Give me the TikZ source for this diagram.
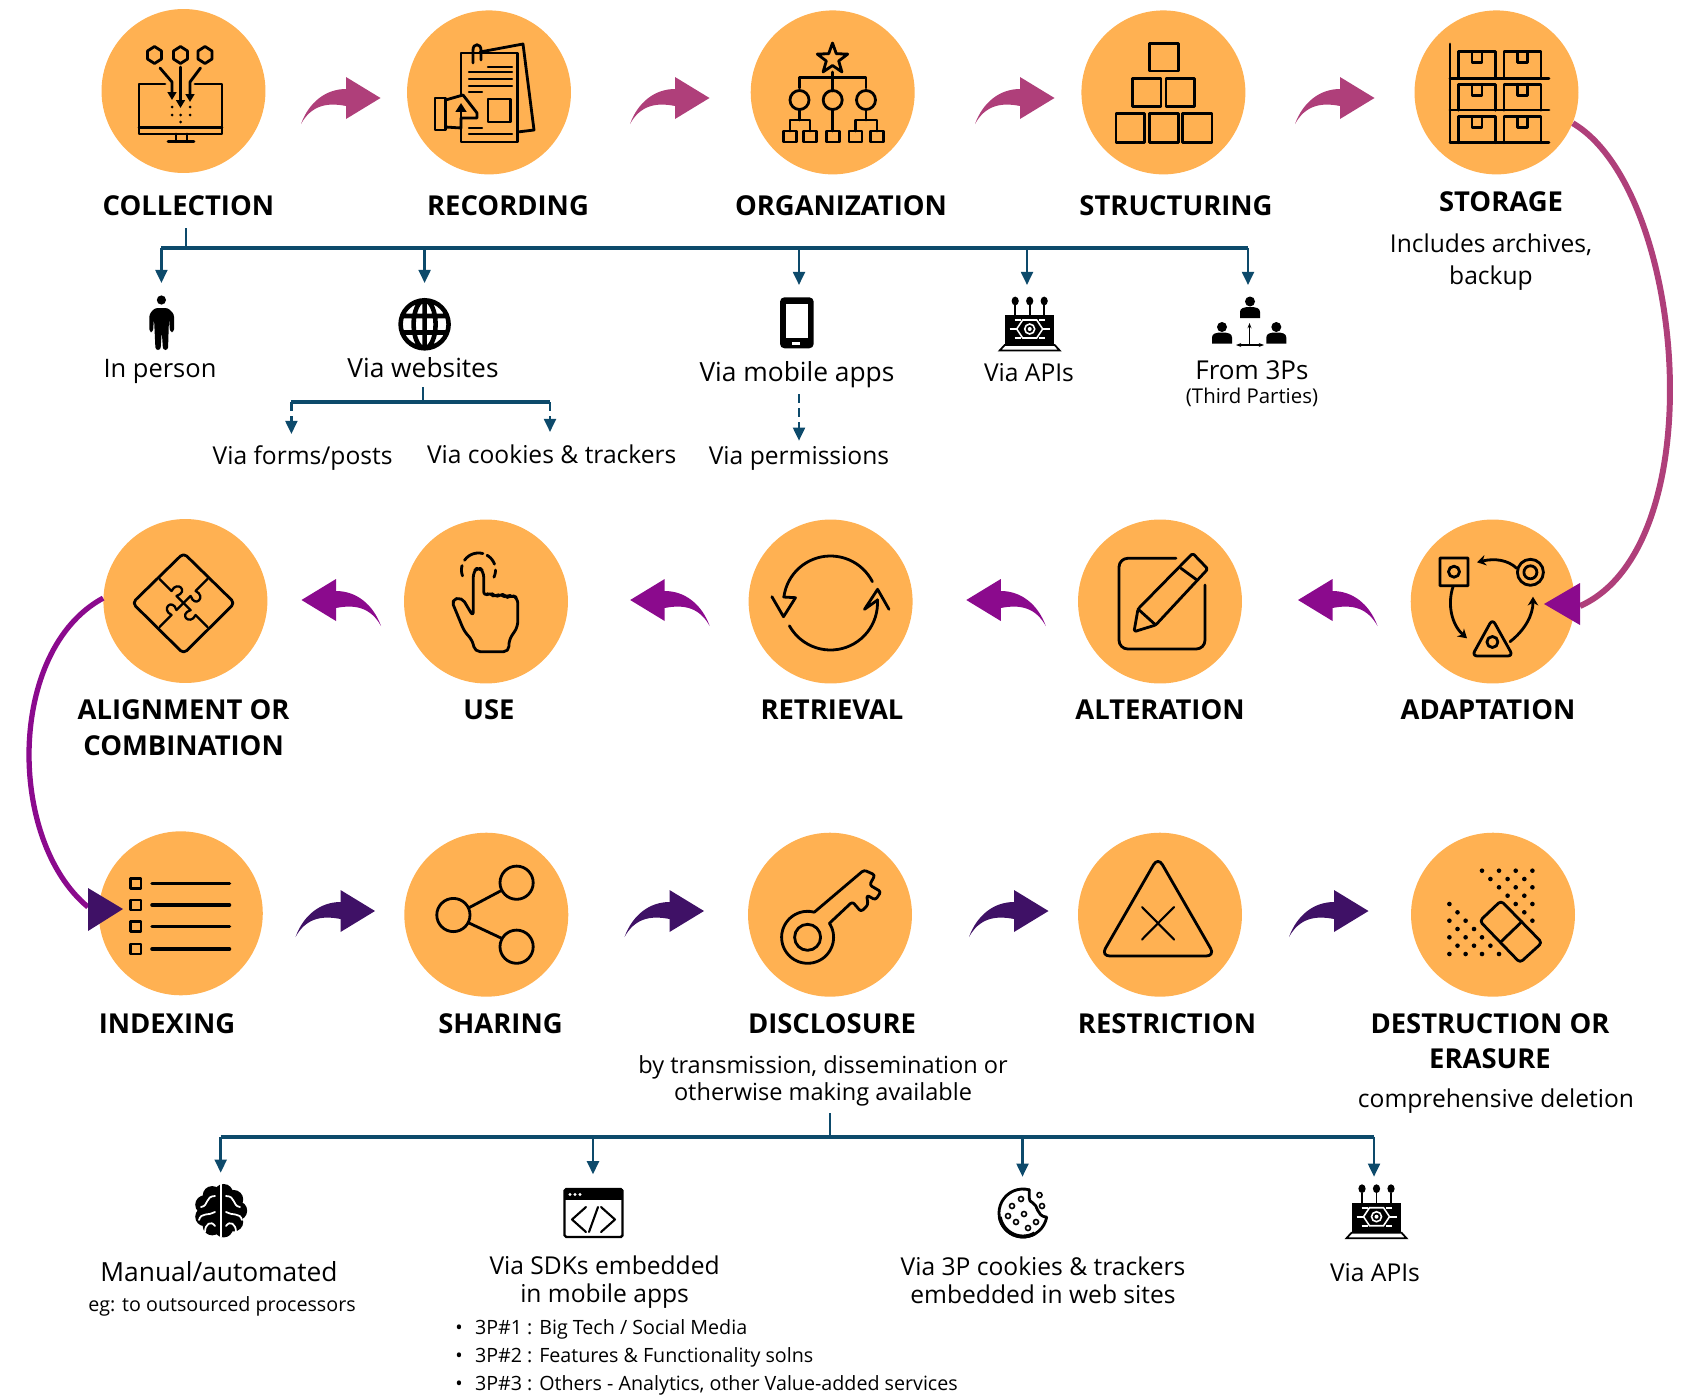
\documentclass[tikz,border=0pt]{standalone}
\usepackage{fontspec}
\setmainfont{Open Sans}
\usetikzlibrary{arrows.meta}
\definecolor{stepfill}{HTML}{FFB152}
\definecolor{plumarrow}{HTML}{AF3F7A}
\definecolor{purplearrow}{HTML}{8B0A8D}
\definecolor{indigoarrow}{HTML}{3F1166}
\definecolor{branchblue}{HTML}{0D4A6B}
\newcommand{\iconarc}[5]{\draw[iconline] plot[smooth,variable=\t,domain=#4:#5,samples=30] ({#1+#3*cos(\t)},{#2-#3*sin(\t)});}
\tikzset{
  stepcircle/.style={circle,fill=stepfill,minimum size=3.28cm,inner sep=0pt},
  steptitle/.style={font=\bfseries\fontsize{15.6}{20}\selectfont,align=center,inner sep=0pt},
  sublabel/.style={font=\fontsize{14}{16}\selectfont,align=center,inner sep=0pt},
  largelabel/.style={font=\fontsize{15}{17}\selectfont,align=center,inner sep=0pt},
  notelabel/.style={font=\fontsize{13.4}{15.4}\selectfont,align=center,inner sep=0pt},
  smalllabel/.style={font=\fontsize{11.6}{14}\selectfont,inner sep=0pt},
  bulletlabel/.style={font=\fontsize{11.2}{14}\selectfont,inner sep=0pt,anchor=west},
  iconline/.style={draw=black,line width=1.6pt,line join=round,line cap=round},
  branchbar/.style={draw=branchblue,line width=2.2pt},
  branchstem/.style={draw=branchblue,line width=1.4pt},
  brancharrow/.style={draw=branchblue,line width=1.4pt,-{Triangle[length=7.5pt,width=6.8pt]}},
  branchdash/.style={brancharrow,dash pattern=on 5pt off 3pt},
  curlarrow/.pic={
    \fill[pic actions] (0,0) .. controls (8,-22) and (25,-35) .. (45,-35) -- (45,-47) -- (79.5,-26) -- (45,-5) -- (45,-18) .. controls (25,-22) and (10,-18) .. (0,0) -- cycle;
  },
  apiicon/.pic={
    \foreach \i in {-14.5,0,14.5} {\draw[line width=1pt] (\i,-14) -- (\i,-24); \fill (\i,-28) ellipse (3.6 and 4.4);}
    \fill (-24.5,-14) rectangle (24.5,15);
    \draw[line width=1pt,fill=white] (-25,16) -- (25,16) -- (30,21.5) -- (-30,21.5) -- cycle;
    \draw[white,line width=.9pt] (0,0) circle (5);
    \fill[white] (0,0) circle (2);
    \draw[white,line width=.9pt] (-13,0) -- (-7,-9) -- (7,-9) -- (13,0) -- (7,9) -- (-7,9) -- cycle;
    \draw[white,line width=.9pt] (-20,0) -- (-13,0) (13,0) -- (20,0) (-15,-9) -- (-9,-9) (15,-9) -- (9,-9) (-15,9) -- (-9,9) (15,9) -- (9,9);
  },
  bustnode/.pic={
    \fill (0,-5.5) circle (5);
    \fill (-10,11) -- (-10,5) .. controls (-10,1) and (-6,0) .. (0,0) .. controls (6,0) and (10,1) .. (10,5) -- (10,11) -- cycle;
  }
}
\begin{document}
\begin{tikzpicture}[x=0.02cm,y=-0.02cm]
\useasboundingbox (0,0) rectangle (1694,1396);
\foreach \nm/\x/\y in {collection/183.5/91,recording/489/92.4,organization/832.7/92.4,structuring/1163.4/92.4,storage/1496.5/92.4,
  alignment/185.4/601,use/486/601.5,retrieval/830.6/601.5,alteration/1160/601.5,adaptation/1492.7/601.5,
  indexing/180.8/913.3,sharing/486.3/914.7,disclosure/830/914.7,restriction/1160/914.7,destruction/1493/914.7}
  \node[stepcircle] (\nm) at (\x,\y) {};

\foreach \x/\y in {301/124,630/124,975/124,1295/124} \pic[fill=plumarrow] at (\x,\y) {curlarrow};
\foreach \x/\y in {381/626,709.7/626,1045.8/626,1377.5/626} \pic[fill=purplearrow,xscale=-1] at (\x,\y) {curlarrow};
\foreach \x/\y in {295.5/937,624.5/937,969/937,1289/937} \pic[fill=indigoarrow] at (\x,\y) {curlarrow};

\coordinate (adaptationin) at (1580,606);
\coordinate (indexingin) at (88,907);
\draw[plumarrow,line width=3.4pt] (storage.-22) .. controls (1686,190) and (1715,546) .. (adaptationin);
\draw[purplearrow,line width=3pt] (alignment.178) .. controls (7,650) and (7,840) .. (indexingin);
\fill[purplearrow] (1580,583) -- (1580,625) -- (1544,604) -- cycle;
\fill[indigoarrow] (88,888) -- (88,931) -- (123,909) -- cycle;

\node[steptitle] (collectiontitle) at (188.4,206) {COLLECTION};
\node[steptitle] (recordingtitle) at (508,206) {RECORDING};
\node[steptitle] (organizationtitle) at (841,206) {ORGANIZATION};
\node[steptitle] (structuringtitle) at (1176,206) {STRUCTURING};
\node[steptitle] (storagetitle) at (1501,202) {STORAGE};
\node[steptitle] (alignmenttitle) at (183.6,727.7) {ALIGNMENT OR\\COMBINATION};
\node[steptitle] (usetitle) at (489,710) {USE};
\node[steptitle] (retrievaltitle) at (832,710) {RETRIEVAL};
\node[steptitle] (alterationtitle) at (1160,710) {ALTERATION};
\node[steptitle] (adaptationtitle) at (1488,710) {ADAPTATION};
\node[steptitle] (indexingtitle) at (167,1024) {INDEXING};
\node[steptitle] (sharingtitle) at (500.5,1024) {SHARING};
\node[steptitle] (disclosuretitle) at (832,1024) {DISCLOSURE};
\node[steptitle] (restrictiontitle) at (1167,1024) {RESTRICTION};
\node[steptitle] (destructiontitle) at (1490,1041.5) {DESTRUCTION OR\\ERASURE};

\node[sublabel] (storagenote) at (1491,262) {Includes archives,\\[2.2pt]backup};
\node[sublabel,font=\fontsize{14.5}{16}\selectfont] (inperson) at (160,371) {In person};
\node[largelabel] (viawebsites) at (423,368) {Via websites};
\node[largelabel] (viamobile) at (797,375) {Via mobile apps};
\node[sublabel] (viaapis) at (1029,373) {Via APIs};
\node[sublabel,font=\fontsize{14.8}{16}\selectfont] (fromtp) at (1252,370) {From 3Ps};
\node[smalllabel] (thirdparties) at (1252,397) {(Third Parties)};
\node[sublabel] (viaforms) at (302.6,458) {Via forms/posts};
\node[sublabel] (viacookies) at (551.7,454) {Via cookies \& trackers};
\node[sublabel] (viapermissions) at (799,458) {Via permissions};
\node[notelabel] (disclosurenote) at (823,1080.7) {by transmission, dissemination or\\otherwise making available};
\node[sublabel] (destructionnote) at (1496,1101) {comprehensive deletion};
\node[largelabel] (manual) at (219,1272) {Manual/automated};
\node[smalllabel,font=\fontsize{11.2}{14}\selectfont] (manualnote) at (222,1306.7) {eg: to outsourced processors};
\node[sublabel] (viasdks) at (604.6,1282) {Via SDKs embedded\\in mobile apps};
\node[sublabel] (viatpcookies) at (1043,1280) {Via 3P cookies \& trackers\\embedded in web sites};
\node[sublabel] (viaapisb) at (1375,1273) {Via APIs};
\node[bulletlabel] (sdkone) at (455,1329) {\textbullet\hspace{7pt}3P\#1 : Big Tech / Social Media};
\node[bulletlabel] (sdktwo) at (455,1357) {\textbullet\hspace{7pt}3P\#2 : Features \& Functionality solns};
\node[bulletlabel] (sdkthree) at (455,1385.5) {\textbullet\hspace{7pt}3P\#3 : Others - Analytics, other Value-added services};

\foreach \nm/\x/\yend in {person/161.4/283,web/424.6/283,mobile/799/285,apis/1027/285,third/1248/285} {
  \coordinate (\nm-top) at (\x,248);
  \coordinate (\nm-end) at (\x,\yend);
  \draw[brancharrow] (\nm-top) -- (\nm-end);
}
\coordinate (collectionstem) at (186,228);
\draw[branchstem] (collectionstem) -- (collectionstem |- person-top);
\draw[branchbar] (person-top) -- (third-top);

\coordinate (webstem) at (423,387);
\coordinate (formsbar) at (291.4,402);
\coordinate (cookiesbar) at (550,402);
\coordinate (formsend) at (291.4,434);
\coordinate (cookiesend) at (550,432);
\coordinate (mobilestem) at (799,394);
\coordinate (permissionsend) at (799,440.7);
\draw[branchstem] (webstem) -- (webstem |- formsbar);
\draw[branchbar] (formsbar) -- (cookiesbar);
\draw[branchdash] (formsbar) -- (formsend);
\draw[branchdash] (cookiesbar) -- (cookiesend);
\draw[branchdash] (mobilestem) -- (permissionsend);

\foreach \nm/\x/\yend in {brain/220.7/1172.7,sdk/593/1174.3,cookie/1022.5/1176.7,api/1374/1176.7} {
  \coordinate (\nm-top) at (\x,1136.7);
  \coordinate (\nm-end) at (\x,\yend);
  \draw[brancharrow] (\nm-top) -- (\nm-end);
}
\coordinate (disclosurestem) at (830,1113);
\draw[branchstem] (disclosurestem) -- (disclosurestem |- brain-top);
\draw[branchbar] (brain-top) -- (api-top);

\foreach \x in {154.5,180.5,205} \draw[iconline] (\x,46.5) -- ++(7,4.5) -- ++(0,8) -- ++(-7,4.5) -- ++(-7,-4.5) -- ++(0,-8) -- cycle;
\draw[iconline] (165,84) -- (139,84) -- (139,134) -- (222,134) -- (222,84) -- (195,84);
\draw[iconline] (139,127.7) -- (222,127.7) (176,134) -- (176,141.7) (187,134) -- (187,141.7) (168,141.7) -- (194,141.7);
\draw[iconline,-{Triangle[length=4.5pt,width=5pt]}] (160,68) -- (172,82) -- (172,100);
\draw[iconline,-{Triangle[length=4.5pt,width=5pt]}] (180.5,67) -- (180.5,108);
\draw[iconline,-{Triangle[length=4.5pt,width=5pt]}] (200.5,68) -- (190,82) -- (190,102);
\foreach \x/\y in {172/107,172/115,180.5/115,180.5/122,190/107,190/115} \fill (\x,\y) circle (1.5);

\draw[iconline] (480,52) -- (523,44) -- (534,130) -- (517.6,132);
\draw[iconline] (461,53) rectangle (517.6,142);
\draw[iconline] (473,63) -- (473,50) .. controls (473,43) and (481,43) .. (481,50) -- (481,60);
\draw[iconline] (488,99) rectangle (510.6,122);
\foreach \xa/\xb/\y in {488/512/67,469/512/72,469/512/79,469/512/86,469/482/92,469/482/128,469/512/134} \draw[iconline,line width=1.4pt] (\xa,\y) -- (\xb,\y);
\draw[iconline,fill=stepfill] (445.5,100) -- (463,95) -- (477,113) -- (477,118) -- (461,118) -- (461,128) -- (445.5,127) -- cycle;
\draw[iconline,fill=stepfill] (435,98) rectangle (445.5,130);
\draw[iconline,-{Triangle[length=5pt,width=6pt]}] (461,128) -- (461,103);

\draw[iconline,shift={(832.5,59)}] (0,-16) -- (3.8,-5.3) -- (15.2,-4.9) -- (6.2,2) -- (9.4,12.9) -- (0,6.5) -- (-9.4,12.9) -- (-6.2,2) -- (-15.2,-4.9) -- (-3.8,-5.3) -- cycle;
\draw[iconline] (832.7,72) -- (832.7,91) (799.5,88) -- (799.5,77.3) -- (866,77.3) -- (866,88);
\foreach \x in {799.5,832.7,866} \draw[iconline] (\x,100) circle (9.5);
\foreach \x in {790,810,833,855.5,877} \draw[iconline] (\x-6.5,131) rectangle (\x+6.5,142);
\draw[iconline] (832.7,110) -- (832.7,131) (799.5,110) -- (799.5,120) (790,131) -- (790,120) -- (810,120) -- (810,131) (866,110) -- (866,120) (855.5,131) -- (855.5,120) -- (877,120) -- (877,131);

\foreach \xa/\ya/\xb/\yb in {1149.4/43.3/1178.5/71,1132.7/78.3/1161/106.7,1166/78.3/1194.6/106.7,1116/113.3/1144.6/142.3,1149.4/113.3/1178.5/142.3,1182.8/113.3/1212/142.3}
  \draw[iconline] (\xa,\ya) rectangle (\xb,\yb);

\draw[iconline] (1450,44) -- (1450,142.7) (1450,78.3) -- (1549,78.3) (1450,110) -- (1549,110) (1450,142.7) -- (1549,142.7);
\foreach \bx in {1458.5,1504} \foreach \by in {51.7,84.3,116.7} {
  \draw[iconline] (\bx,\by+26) -- (\bx,\by) -- (\bx+37,\by) -- (\bx+37,\by+26);
  \draw[iconline] (\bx+13.5,\by) -- ++(0,11) -- ++(10,0) -- ++(0,-11);
}

\draw[iconline,rounded corners=2.5pt] (183.6,553) -- (234.7,603) -- (183.6,653.7) -- (132.4,603) -- cycle;
\foreach \a in {45,135,225,315} \draw[iconline,line width=1.3pt,shift={(183.6,603)},rotate=\a] (0,0) -- (10,0) .. controls (4,12) and (21,12) .. (17,0) -- (34,0);

\draw[iconline,rounded corners=3pt] (464.4,631.7) -- (451.3,600) -- (461.8,597.3) -- (473.3,616.7) -- (473.3,571.7) -- (478.5,566.7) -- (483.7,571.7) -- (483.7,596.7) -- (490.6,591.7) -- (494.7,598) -- (501,593) -- (506,598) -- (511.5,595) -- (517.8,598) -- (517.8,626.7) -- (508.9,640) -- (508.9,651.7) -- (474.9,651.7) -- (472.3,640) -- cycle;
\iconarc{478.5}{570}{17}{20}{60}
\iconarc{478.5}{570}{17}{75}{145}
\iconarc{478.5}{570}{17}{165}{200}
\iconarc{478.5}{570}{17}{-25}{0}

\iconarc{830.5}{603}{47}{172}{27}
\iconarc{830.5}{603}{47}{209}{364}
\draw[iconline] (771.9,596.7) -- (783.5,616.7) -- (795.5,597.7) -- (783.5,597);
\draw[iconline] (889,609.3) -- (877.6,589.3) -- (864.5,609.3) -- (877.6,600);

\draw[iconline,rounded corners=5pt] (1176,558.3) -- (1119,558.3) -- (1119,649) -- (1205,649) -- (1205,585);
\draw[iconline,rounded corners=1pt] (1134,631.7) -- (1138,609) -- (1192.7,553.3) -- (1207.8,569) -- (1155.7,625) -- cycle;
\draw[iconline] (1138,609) -- (1155.7,625) (1181,568.3) -- (1196,579.3);

\draw[iconline] (1440,558) rectangle (1468,585.7) (1454,571.7) circle (5.5);
\draw[iconline] (1530.4,572.3) circle (13) (1530.4,572.3) circle (6.5);
\draw[iconline,rounded corners=3pt] (1492.4,619) -- (1513,656) -- (1472,656) -- cycle;
\draw[iconline] (1492.4,642) circle (5.5);
\draw[iconline,-{Stealth[length=5pt,width=6pt]}] (1516.7,568.3) .. controls (1508,560) and (1495,558) .. (1477,562.3);
\draw[iconline,-{Stealth[length=5pt,width=6pt]}] (1510,641.7) .. controls (1525,630) and (1533,615) .. (1533,596.7);
\draw[iconline,-{Stealth[length=5pt,width=6pt]}] (1453,586.7) .. controls (1447,605) and (1452,625) .. (1467,638.3);

\foreach \y in {883.3,905,926.7,949} {
  \draw[iconline] (130.5,\y-5) rectangle (141,\y+5);
  \draw[iconline,line width=2pt] (152,\y) -- (229.5,\y);
}

\foreach \nm/\x/\y in {sharetop/516.6/882.7,shareleft/453.4/915,sharebottom/516.6/946.7} \draw[iconline] (\x,\y) circle (16.6);
\draw[iconline] (469,907.7) -- (501,890.7) (469,923) -- (501,938);

\iconarc{807.6}{937.3}{26}{75}{392}
\draw[iconline] (807.6,937.3) circle (13);
\draw[iconline,rounded corners=1.5pt] (814.5,912) -- (864,870) -- (875,875) -- (869.6,885) -- (881,891.7) -- (875.4,900) -- (866.7,895) -- (868,905) -- (861,911.7) -- (852.4,901.7) -- (829.4,923.3);

\draw[iconline,rounded corners=5pt] (1158,857) -- (1215,956) -- (1101,956) -- cycle;
\draw[iconline,line width=1.2pt] (1142,907) -- (1174,939.5) (1174,907) -- (1142,939.5);

\draw[iconline,rounded corners=2pt] (1501,900.7) -- (1542,942.7) -- (1520,962.7) -- (1479.7,921) -- cycle;
\draw[iconline] (1521.8,921.7) -- (1501,941.7);
\foreach \x/\y in {1482/870.7,1499/870.7,1515.7/870.7,1532.4/870.7,1490.4/879,1507.6/879,1524.3/879,1499/887.3,1515.7/887.3,1532.4/887.3,1507.6/895.7,1524.3/895.7,1515.7/904,1532.4/904,1524.3/912.3,1532.4/920.7,
  1449.4/904,1457.5/912.3,1449.4/920.7,1465.6/920.7,1457.5/929,1474/929,1449.4/937.3,1465.6/937.3,1482/937.3,1457.5/945.7,1474/945.7,1490.4/945.7,1449.4/954,1465.6/954,1482/954,1499/954}
  \fill (\x,\y) circle (2.3);

\fill (161.4,300) circle (4.6);
\fill[rounded corners=1.5pt] (155,308) -- (168,308) -- (174,314) -- (174,332) -- (170,332) -- (169,318) -- (168,350) -- (163,350) -- (161.8,332) -- (160.5,350) -- (155.5,350) -- (154,318) -- (153,332) -- (149.4,332) -- (149.4,314) -- cycle;

\draw[line width=2.6pt] (424.6,324.3) circle (24) (424.6,324.3) ellipse (11 and 24) (424.6,300) -- (424.6,348.6) (403,316) -- (446,316) (403,332.5) -- (446,332.5);

\fill[rounded corners=2.5pt] (780,297.3) rectangle (813.7,348.3);
\fill[white] (785.8,304) rectangle (808,338.3);
\fill[white] (791.5,341.5) rectangle (799.5,344.5);

\pic at (1029.7,329) {apiicon};
\pic at (1376.5,1216.7) {apiicon};

\pic at (1250,307) {bustnode};
\pic at (1222,332.5) {bustnode};
\pic at (1276.3,332.5) {bustnode};
\draw[line width=.9pt,{Stealth[length=3pt]}-{Stealth[length=3pt]}] (1236,345) -- (1264,345);
\draw[line width=.9pt,-{Stealth[length=3pt]}] (1249.5,345) -- (1249.5,323);

\foreach \a in {0,40,...,320} \fill ({220.7+17*cos(\a)},{1210.7+17.5*sin(\a)}) circle (9.5);
\fill (220.7,1210.7) circle (18);
\draw[white,line width=1pt] (220.7,1184) -- (220.7,1237);
\draw[white,line width=1pt,line cap=round] (226,1196) .. controls (236,1196) and (232,1206) .. (240,1207) (226,1212) .. controls (232,1216) and (240,1212) .. (242,1220) (226,1226) .. controls (230,1220) and (236,1224) .. (236,1232);
\draw[white,line width=1pt,line cap=round] (215,1196) .. controls (205,1196) and (209,1206) .. (201,1207) (215,1212) .. controls (209,1216) and (201,1212) .. (199,1220) (215,1226) .. controls (211,1220) and (205,1224) .. (205,1232);

\draw[line width=1.4pt,rounded corners=1pt] (564.5,1189) rectangle (622.5,1237);
\fill (564.5,1189) rectangle (622.5,1200);
\foreach \x in {570,575,580} \fill[white] (\x,1194.5) circle (1.6);
\draw[iconline,line width=1.2pt] (586,1207) -- (572,1219.5) -- (586,1232) (601,1207) -- (615,1219.5) -- (601,1232) (598,1207) -- (589,1232);

\iconarc{1023}{1213}{24}{75}{350}
\draw[iconline] (1046.6,1217.2) .. controls (1036,1216) and (1038,1205) .. (1033,1203) .. controls (1027,1201) and (1030,1195) .. (1029.2,1189.8);
\draw[line width=2.2pt] plot[smooth,variable=\t,domain=190:300,samples=15] ({1023+23.5*cos(\t)},{1213-23.5*sin(\t)});
\foreach \x/\y in {1039.5/1195,1042/1206,1012/1206,1021/1199,1016/1222,1028/1228,1008/1216,1024/1214,1036/1222} \draw[line width=.9pt] (\x,\y) circle (2.5);
\end{tikzpicture}
\end{document}
